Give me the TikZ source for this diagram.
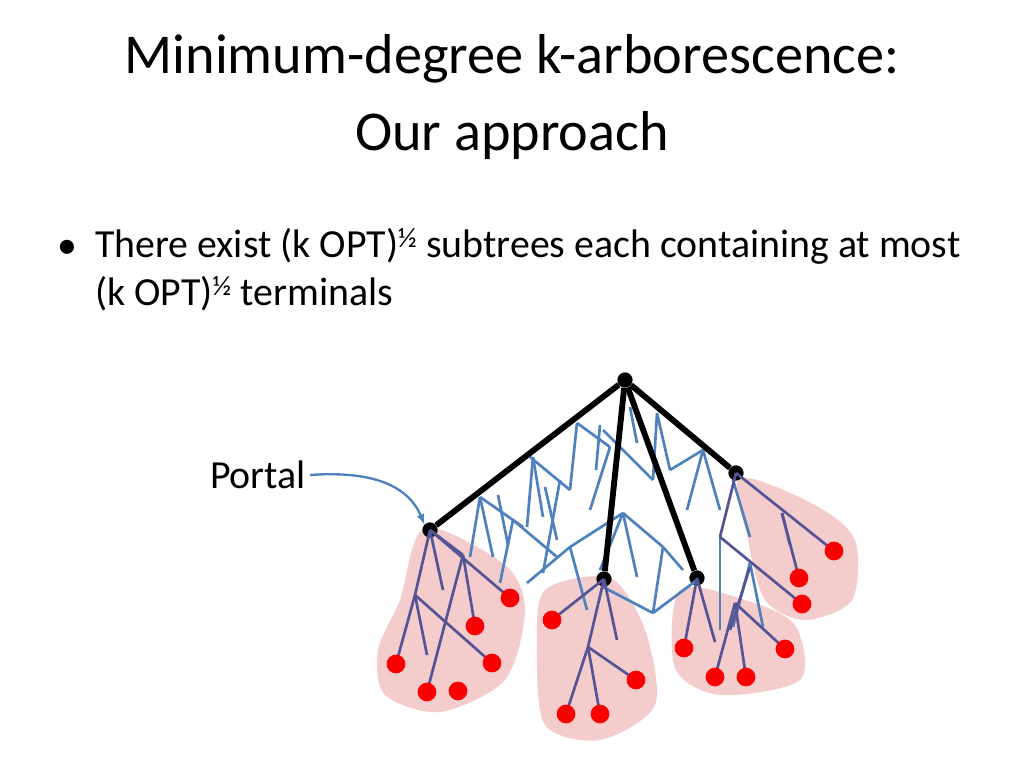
\documentclass[tikz,border=0pt]{standalone}
\usepackage{fontspec}
\setmainfont{Carlito}
\definecolor{netblue}{RGB}{79,129,189}
\definecolor{subblue}{RGB}{85,85,150}
\definecolor{blobpink}{RGB}{236,170,170}
\definecolor{dotred}{RGB}{250,0,0}
\tikzset{
  net/.style={netblue,line width=2.3pt},
  sub/.style={subblue,line width=2.3pt},
  spine/.style={black,line width=5pt},
  portal/.style={circle,fill=black,inner sep=0pt,minimum size=13pt},
  term/.style={circle,fill=dotred,inner sep=0pt,minimum size=16pt},
  blob/.style={fill=blobpink,fill opacity=0.6,draw=none}
}
\begin{document}
\begin{tikzpicture}[x=0.03cm,y=-0.03cm]
  \useasboundingbox (0,0) rectangle (1024,768);
  % title and bullet
  \node[font=\fontsize{48}{65}\selectfont,align=center] (title) at (512,97)
    {Minimum-degree k-arborescence:\\Our approach};
  \node[font=\fontsize{34}{41}\selectfont] (dot) at (67,249) {•};
  \node[font=\fontsize{34}{41}\selectfont,anchor=north west,align=left] (body) at (91,224)
    {There exist (k OPT)\textsuperscript{½} subtrees each containing at most\\(k OPT)\textsuperscript{½} terminals};

  % blobs
  \fill[blob] plot[smooth cycle] coordinates {(425,528) (505,565) (525,610) (505,680) (440,712) (385,695) (378,650) (400,600)};
  \fill[blob] plot[smooth cycle] coordinates {(545,590) (610,578) (645,630) (655,705) (600,740) (545,725) (537,650)};
  \fill[blob] plot[smooth cycle] coordinates {(680,590) (745,600) (795,625) (800,680) (720,695) (675,668)};
  \fill[blob] plot[smooth cycle] coordinates {(740,478) (815,505) (855,540) (852,600) (805,620) (765,600) (748,540)};

  % nodes
  \node[portal] (root) at (625,380) {};
  \node[portal] (pa) at (430,530) {};
  \node[portal] (pb) at (604,579) {};
  \node[portal] (pc) at (697,578) {};
  \node[portal] (pd) at (736,473) {};

  % blue network
  \foreach \xa/\ya/\xb/\yb in {577/423/570/490, 577/423/610/447, 610/447/590/510, 533/457/527/527,
    533/457/543/517, 530/457/570/490, 560/480/543/573, 480/497/470/557, 480/497/493/557,
    480/497/523/527, 513/520/500/583, 513/520/557/557, 570/547/527/583, 570/547/587/610,
    570/547/623/513, 623/513/637/577, 623/513/663/547, 663/547/653/613, 653/613/697/580,
    603/587/653/613, 630/407/637/443, 657/413/653/480, 657/413/670/470, 603/430/653/480,
    670/470/703/450, 703/450/687/510, 703/450/720/510, 733/480/750/537, 720/537/720/630,
    750/563/733/627, 750/563/763/627, 600/425/596/470, 623/513/600/570, 663/547/683/570,
    545/487/557/540, 498/495/508/545}
  {\draw[net] (\xa,\ya) -- (\xb,\yb);}

  % subtrees
  \foreach \xa/\ya/\xb/\yb in {430/530/443/590, 463/555/427/692, 463/555/475/626, 415/595/396/664,
    415/595/427/655, 415/595/492/663, 430/530/415/595, 604/579/588/647, 588/647/566/714,
    588/647/600/714, 588/647/636/680, 604/579/552/620, 604/579/617/640, 697/578/684/648,
    697/578/715/642, 735/603/715/677, 735/603/746/677, 735/603/785/649, 750/567/730/630,
    736/473/834/551, 782/513/799/578, 782/513/790/545, 720/537/802/604, 736/473/720/537,
    430/530/463/555, 430/530/510/598}
  {\draw[sub] (\xa,\ya) -- (\xb,\yb);}

  % spines
  \foreach \p in {pa,pb,pc,pd} {\draw[spine] (root) -- (\p);}

  % terminals
  \foreach \x/\y [count=\i] in {510/598,475/626,492/663,396/664,427/692,458/691,
    552/620,636/680,566/714,600/714,684/648,785/649,715/677,746/677,834/551,799/578,802/604}
  {\node[term] (t\i) at (\x,\y) {};}

  % portal label
  \node[font=\fontsize{34}{41}\selectfont] (lab) at (258,475) {Portal};
  \draw[netblue,line width=2pt,-latex] (lab.east) .. controls (380,470) and (410,490) .. (pa.north west);
\end{tikzpicture}
\end{document}
